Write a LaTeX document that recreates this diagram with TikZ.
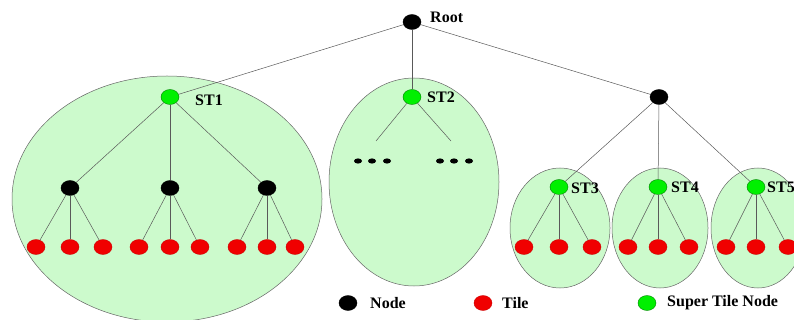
\documentclass[tikz,border=0pt]{standalone}
\usepackage{fontspec}
\setmainfont{Liberation Serif}
\usetikzlibrary{shapes.geometric}
\definecolor{stgreen}{RGB}{0,240,0}
\definecolor{regiongreen}{RGB}{204,250,204}
\definecolor{tilered}{RGB}{240,0,0}
\tikzset{
    treenode/.style = {ellipse, draw = black, fill = black, minimum width = 18pt, minimum height = 15pt, inner sep = 0pt},
    tilenode/.style = {treenode, draw = red!80!black, fill = tilered},
    stnode/.style = {treenode, draw = green!50!black, fill = stgreen},
    region/.style = {draw = gray!80!black, line width = 0.5pt, fill = regiongreen},
    branch/.style = {draw = gray!70!black, line width = 0.5pt},
    tagtext/.style = {anchor = west, inner sep = 0pt, font = \fontsize{16}{18}\selectfont\bfseries}
}
\begin{document}
\begin{tikzpicture}[x = 1pt, y = -1pt]
            \useasboundingbox (0,0) rectangle (794,320);
            \clip (0,0) rectangle (794,320);
            \filldraw[style = region] (167,199) ellipse[x radius = 155, y radius = 123];
            \filldraw[style = region] (414,182) ellipse[x radius = 85, y radius = 104];
            \filldraw[style = region] (560,228) ellipse[x radius = 50, y radius = 60];
            \filldraw[style = region] (660,228) ellipse[x radius = 48, y radius = 60];
            \filldraw[style = region] (758,228) ellipse[x radius = 47, y radius = 60];
            \node[treenode] (root) at (412,22) {};
            \node[stnode] (st1) at (170,97) {};
            \node[stnode] (st2) at (412,97) {};
            \node[treenode] (right) at (659,97) {};
            \node[treenode] (n1) at (70,188) {};
            \node[treenode] (n2) at (170,188) {};
            \node[treenode] (n3) at (267,188) {};
            \node[stnode] (st3) at (559,187) {};
            \node[stnode] (st4) at (658,187) {};
            \node[stnode] (st5) at (756,187) {};
            \coordinate (st2l) at (376,141);
            \coordinate (st2r) at (451,141);
            \draw[style = branch] (root) -- (st1);
            \draw[style = branch] (root) -- (st2);
            \draw[style = branch] (root) -- (right);
            \draw[style = branch] (st2) -- (st2l);
            \draw[style = branch] (st2) -- (st2r);
            \foreach \p in {n1, n2, n3} {
                \draw[style = branch] (st1) -- (\p);
            }
            \foreach \p in {st3, st4, st5} {
                \draw[style = branch] (right) -- (\p);
            }
            \foreach \p/\a/\b/\c in {n1/36/70/103, n2/139/170/200, n3/237/267/295, st3/524/559/592, st4/628/658/689, st5/726/756/788} {
                \node[tilenode] (\p-1) at (\a,247) {};
                \node[tilenode] (\p-2) at (\b,247) {};
                \node[tilenode] (\p-3) at (\c,247) {};
                \draw[style = branch] (\p) -- (\p-1);
                \draw[style = branch] (\p) -- (\p-2);
                \draw[style = branch] (\p) -- (\p-3);
            }
            \foreach \x in {358, 372, 387, 440, 454, 469} {
                \fill (\x,161) ellipse[x radius = 4, y radius = 2.6];
            }
            \node[tagtext] (rootlabel) at (430,17) {Root};
            \node[tagtext] (st1label) at (195,100) {ST1};
            \node[tagtext] (st2label) at (427,97) {ST2};
            \node[tagtext] (st3label) at (571,188) {ST3};
            \node[tagtext] (st4label) at (671,187) {ST4};
            \node[tagtext] (st5label) at (767,187) {ST5};
            \node[treenode] (keynode) at (348,303) {};
            \node[tagtext] (keynodetext) at (370,303) {Node};
            \node[tilenode] (keytile) at (483,303) {};
            \node[tagtext] (keytiletext) at (502,303) {Tile};
            \node[stnode] (keyst) at (647,303) {};
            \node[tagtext] (keysttext) at (667,303) {Super Tile Node};
\end{tikzpicture}
\end{document}
